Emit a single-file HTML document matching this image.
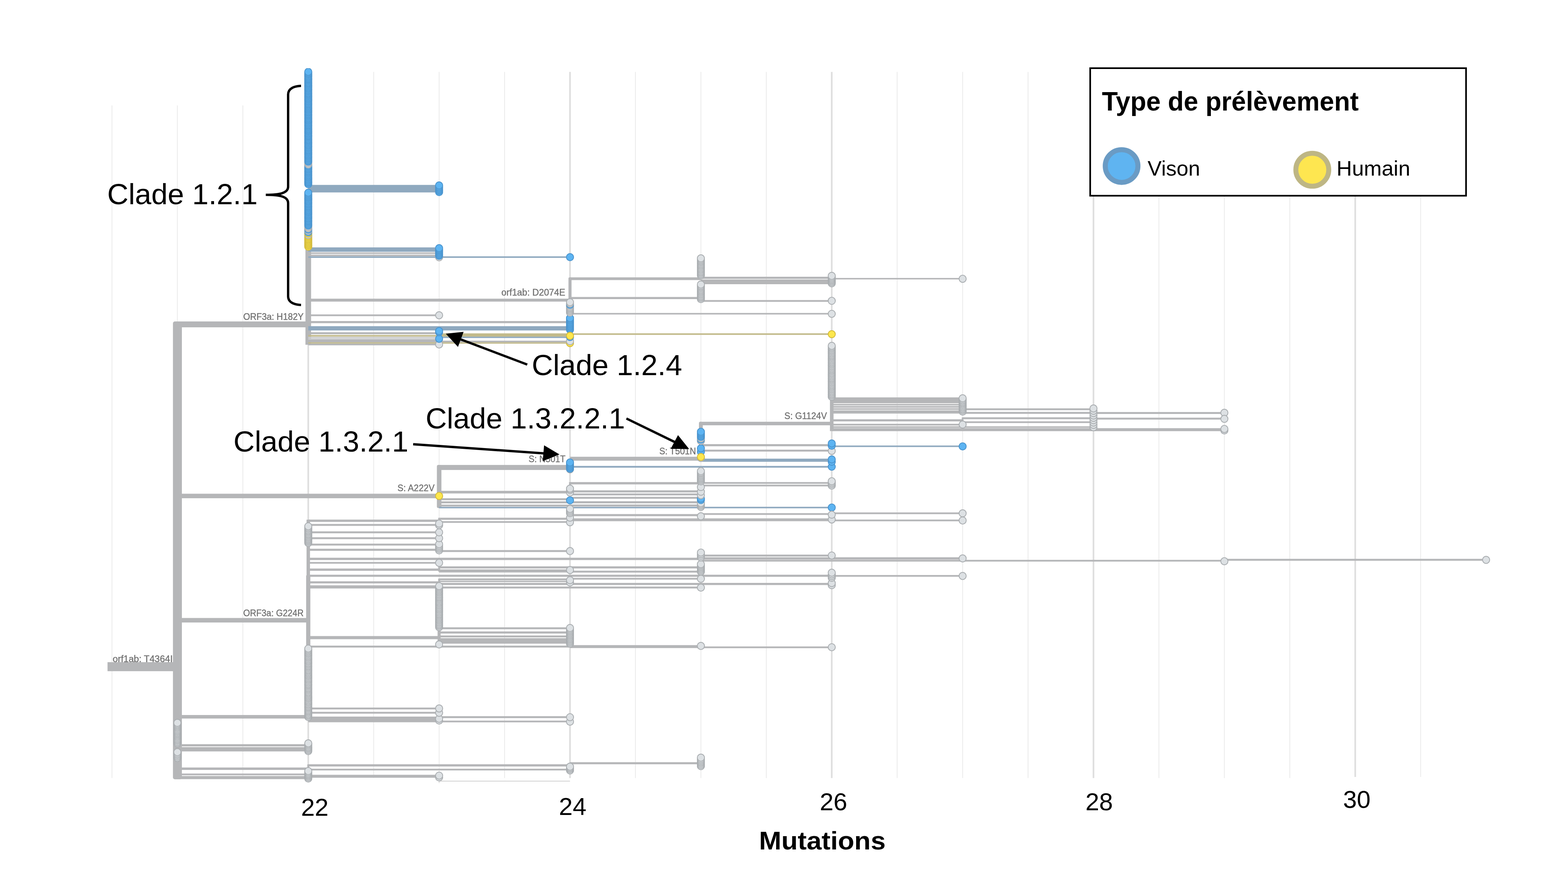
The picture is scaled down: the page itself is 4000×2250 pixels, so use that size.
<!DOCTYPE html>
<html lang="fr">
<head>
<meta charset="utf-8">
<title>Mutations - Type de prélèvement</title>
<style>
html,body{margin:0;padding:0;background:#fff;}
body{width:4000px;height:2250px;font-family:"Liberation Sans",sans-serif;}
svg{display:block;}
text{font-family:"Liberation Sans",sans-serif;}
.lb{font-size:23.5px;fill:#707070;stroke:#707070;stroke-width:0.45px;}
.cl{font-size:75px;fill:#000;}
.ax{font-size:63px;fill:#000;}
.bd{font-weight:bold;fill:#000;}
</style>
</head>
<body>
<svg width="4000" height="2250" viewBox="0 0 4000 2250">
<rect width="4000" height="2250" fill="#fff"/>
<g id="grid">
<rect x="284.5" y="269" width="2.2" height="1715.8" fill="#ececec"/>
<rect x="451.4" y="269" width="2.2" height="1715.8" fill="#ececec"/>
<rect x="618.4" y="269" width="2.2" height="1715.8" fill="#ececec"/>
<rect x="784.3" y="183.5" width="4.2" height="1801.3" fill="#dedede"/>
<rect x="952.2" y="183.5" width="2.2" height="1801.3" fill="#ececec"/>
<rect x="1119.2" y="183.5" width="2.2" height="1801.3" fill="#ececec"/>
<rect x="1286.1" y="183.5" width="2.2" height="1801.3" fill="#ececec"/>
<rect x="1452" y="183.5" width="4.2" height="1801.3" fill="#dedede"/>
<rect x="1619.9" y="183.5" width="2.2" height="1801.3" fill="#ececec"/>
<rect x="1786.9" y="183.5" width="2.2" height="1801.3" fill="#ececec"/>
<rect x="1953.8" y="183.5" width="2.2" height="1801.3" fill="#ececec"/>
<rect x="2119.7" y="183.5" width="4.2" height="1801.3" fill="#dedede"/>
<rect x="2287.6" y="183.5" width="2.2" height="1801.3" fill="#ececec"/>
<rect x="2454.6" y="183.5" width="2.2" height="1801.3" fill="#ececec"/>
<rect x="2621.5" y="183.5" width="2.2" height="1801.3" fill="#ececec"/>
<rect x="2787.4" y="183.5" width="4.2" height="1801.3" fill="#dedede"/>
<rect x="2955.3" y="183.5" width="2.2" height="1801.3" fill="#ececec"/>
<rect x="3122.3" y="183.5" width="2.2" height="1801.3" fill="#ececec"/>
<rect x="3289.2" y="183.5" width="2.2" height="1801.3" fill="#ececec"/>
<rect x="3455.1" y="183.5" width="4.2" height="1798.5" fill="#dedede"/>
<rect x="3623" y="183.5" width="2.2" height="1798.5" fill="#ececec"/>
<path d="M1120.2 1988.5V1997.5M1120.2 1992.6H1454.1" stroke="#c9c9c9" stroke-width="1.6" fill="none"/>
</g>
<g id="branches">
<rect x="274.3" y="1689.2" width="178.2" height="23" fill="#b5b6b8"/>
<rect x="441.2" y="820" width="22.8" height="1168" rx="5" fill="#b5b6b8"/>
<rect x="452.5" y="820" width="333.9" height="15" fill="#b5b6b8"/>
<rect x="452.5" y="1259.5" width="667.7" height="11.5" fill="#b5b6b8"/>
<rect x="452.5" y="1576.5" width="333.9" height="11.5" fill="#b5b6b8"/>
<rect x="452.5" y="1824" width="333.9" height="9" fill="#b5b6b8"/>
<rect x="452.5" y="1898.4" width="333.9" height="5.6" fill="#b5b6b8"/>
<rect x="452.5" y="1905.9" width="333.9" height="11" fill="#b5b6b8"/>
<rect x="452.5" y="1957.9" width="333.9" height="6.2" fill="#b5b6b8"/>
<rect x="452.5" y="1973.3" width="333.9" height="4.4" fill="#b5b6b8"/>
<rect x="452.5" y="1979.6" width="333.9" height="8" fill="#b5b6b8"/>
<rect x="779.2" y="637" width="14.4" height="242.5" fill="#b5b6b8"/>
<rect x="786.4" y="471.7" width="333.9" height="19.2" fill="#8fa9bf"/>
<rect x="786.4" y="631.1" width="333.9" height="11.3" fill="#8fa9bf"/>
<rect x="786.4" y="644" width="333.9" height="3.6" fill="#b5b6b8"/>
<rect x="786.4" y="649.6" width="333.9" height="3.9" fill="#b5b6b8"/>
<rect x="786.4" y="653.9" width="667.7" height="3.9" fill="#8fa9bf"/>
<rect x="786.4" y="761.9" width="667.7" height="7.5" fill="#b5b6b8"/>
<rect x="786.4" y="802.1" width="333.9" height="4.4" fill="#b5b6b8"/>
<rect x="786.4" y="819" width="667.7" height="5.4" fill="#b5b6b8"/>
<rect x="786.4" y="832.1" width="667.7" height="10.9" fill="#8fa9bf"/>
<rect x="786.4" y="847.5" width="333.9" height="5.1" fill="#b5b6b8"/>
<rect x="786.4" y="854.6" width="333.9" height="4" fill="#c2ba8a"/>
<rect x="1120.2" y="850.4" width="333.8" height="8.4" fill="#c2ba8a"/>
<rect x="786.4" y="859.3" width="333.9" height="3.4" fill="#cbccce"/>
<rect x="1120.2" y="858.8" width="333.8" height="3.5" fill="#8fa9bf"/>
<rect x="786.4" y="863.3" width="333.9" height="4.4" fill="#cbccce"/>
<rect x="786.4" y="866.5" width="333.9" height="7" fill="#b5b6b8"/>
<rect x="1120.2" y="869.1" width="333.8" height="4.4" fill="#b5b6b8"/>
<rect x="786.4" y="873.3" width="667.7" height="3.4" fill="#c2ba8a"/>
<rect x="786.4" y="876.6" width="333.9" height="4.3" fill="#b5b6b8"/>
<rect x="1450.2" y="707.5" width="7.8" height="58.1" rx="3" fill="#b5b6b8"/>
<rect x="1454.1" y="707.5" width="333.9" height="7" fill="#b5b6b8"/>
<rect x="1788" y="706" width="333.9" height="5.4" fill="#b5b6b8"/>
<rect x="1788" y="713" width="333.9" height="12" fill="#b5b6b8"/>
<rect x="2121.8" y="709.1" width="333.8" height="3.7" fill="#b5b6b8"/>
<rect x="1454.1" y="757.6" width="333.9" height="5.4" fill="#b5b6b8"/>
<rect x="1788" y="765.5" width="333.9" height="4.4" fill="#b5b6b8"/>
<rect x="1454.1" y="798.4" width="667.7" height="3.9" fill="#b5b6b8"/>
<rect x="1454.1" y="850.3" width="667.7" height="4" fill="#c2ba8a"/>
<rect x="2117.2" y="1013.5" width="9.2" height="86.2" fill="#b5b6b8"/>
<rect x="2121.8" y="1013.7" width="333.8" height="15" fill="#b5b6b8"/>
<rect x="2121.8" y="1030.5" width="333.8" height="3.9" fill="#b5b6b8"/>
<rect x="2121.8" y="1036" width="333.8" height="3.9" fill="#b5b6b8"/>
<rect x="2121.8" y="1041.5" width="333.8" height="3.9" fill="#b5b6b8"/>
<rect x="2121.8" y="1047" width="333.8" height="8" fill="#b5b6b8"/>
<rect x="2455.7" y="1041.7" width="333.8" height="4.7" fill="#b5b6b8"/>
<rect x="2455.7" y="1050.8" width="333.8" height="4.9" fill="#b5b6b8"/>
<rect x="2453.4" y="1065" width="4.5" height="9.5" fill="#b5b6b8"/>
<rect x="2455.7" y="1064.5" width="333.8" height="4.9" fill="#b5b6b8"/>
<rect x="2455.7" y="1074.8" width="333.8" height="4.4" fill="#b5b6b8"/>
<rect x="2121.8" y="1069.6" width="333.8" height="5.4" fill="#b5b6b8"/>
<rect x="2121.8" y="1081.1" width="333.8" height="4.4" fill="#b5b6b8"/>
<rect x="2121.8" y="1087.5" width="667.7" height="3.9" fill="#b5b6b8"/>
<rect x="2121.8" y="1092.3" width="1001.6" height="7.6" fill="#b5b6b8"/>
<rect x="2789.5" y="1051.1" width="333.9" height="4.9" fill="#b5b6b8"/>
<rect x="2789.5" y="1065.5" width="333.9" height="4.9" fill="#b5b6b8"/>
<rect x="1788" y="1075.9" width="333.9" height="9" fill="#b5b6b8"/>
<rect x="1783" y="1075.8" width="9.8" height="95" rx="4" fill="#b5b6b8"/>
<rect x="1454.1" y="1165.2" width="333.9" height="10" fill="#b5b6b8"/>
<rect x="1788" y="1133" width="333.9" height="5.4" fill="#b5b6b8"/>
<rect x="1788" y="1147.1" width="333.9" height="4.9" fill="#b5b6b8"/>
<rect x="1788" y="1170" width="333.9" height="8" fill="#8fa9bf"/>
<rect x="1454.1" y="1188.6" width="667.7" height="4.4" fill="#8fa9bf"/>
<rect x="2121.8" y="1136.5" width="333.8" height="3.9" fill="#8fa9bf"/>
<rect x="1120.2" y="1186.1" width="333.8" height="12.8" fill="#b5b6b8"/>
<rect x="1114.5" y="1186.1" width="11.6" height="110" rx="4" fill="#b5b6b8"/>
<rect x="1120.2" y="1252.1" width="333.8" height="6.7" fill="#b5b6b8"/>
<rect x="1120.2" y="1271" width="333.8" height="5.1" fill="#b5b6b8"/>
<rect x="1120.2" y="1278.9" width="333.8" height="5.1" fill="#b5b6b8"/>
<rect x="1120.2" y="1287.3" width="333.8" height="4.6" fill="#b5b6b8"/>
<rect x="1120.2" y="1292.8" width="1001.6" height="3.9" fill="#8fa9bf"/>
<rect x="1451.6" y="1230" width="5" height="26" fill="#b5b6b8"/>
<rect x="1454.1" y="1229.8" width="333.9" height="5.9" fill="#b5b6b8"/>
<rect x="1454.1" y="1250.8" width="333.9" height="5.4" fill="#b5b6b8"/>
<rect x="1454.1" y="1258.8" width="333.9" height="4.9" fill="#b5b6b8"/>
<rect x="1454.1" y="1267.5" width="333.9" height="4.9" fill="#b5b6b8"/>
<rect x="1454.1" y="1278.6" width="333.9" height="5.4" fill="#b5b6b8"/>
<rect x="1454.1" y="1287" width="333.9" height="4.9" fill="#b5b6b8"/>
<rect x="1454.1" y="1311.4" width="333.9" height="5.4" fill="#b5b6b8"/>
<rect x="1454.1" y="1322.4" width="667.7" height="7.2" fill="#b5b6b8"/>
<rect x="1117.8" y="1321" width="5" height="10" fill="#b5b6b8"/>
<rect x="1120.2" y="1320.7" width="333.8" height="5.4" fill="#b5b6b8"/>
<rect x="1120.2" y="1329.4" width="333.8" height="4.4" fill="#b5b6b8"/>
<rect x="1788" y="1229.8" width="333.9" height="4.4" fill="#b5b6b8"/>
<rect x="1788" y="1236.4" width="333.9" height="4.4" fill="#b5b6b8"/>
<rect x="1788" y="1309.1" width="333.9" height="4.4" fill="#b5b6b8"/>
<rect x="2121.8" y="1307.2" width="333.8" height="4.4" fill="#b5b6b8"/>
<rect x="2121.8" y="1325.4" width="333.8" height="4.4" fill="#b5b6b8"/>
<rect x="782" y="1325.7" width="8.8" height="146.3" fill="#b5b6b8"/>
<rect x="781" y="1468" width="10.7" height="184" fill="#b5b6b8"/>
<rect x="786.4" y="1325.5" width="333.9" height="5.9" fill="#b5b6b8"/>
<rect x="786.4" y="1336.6" width="333.9" height="4.9" fill="#b5b6b8"/>
<rect x="786.4" y="1355.5" width="333.9" height="4.9" fill="#b5b6b8"/>
<rect x="786.4" y="1370.5" width="333.9" height="4.9" fill="#b5b6b8"/>
<rect x="786.4" y="1386.8" width="333.9" height="4.9" fill="#b5b6b8"/>
<rect x="786.4" y="1399.8" width="333.9" height="5.4" fill="#b5b6b8"/>
<rect x="786.4" y="1422.8" width="1001.6" height="5.9" fill="#b5b6b8"/>
<rect x="786.4" y="1433.6" width="333.9" height="4.4" fill="#b5b6b8"/>
<rect x="786.4" y="1450.3" width="333.9" height="5.9" fill="#b5b6b8"/>
<rect x="786.4" y="1466.1" width="1335.4" height="5.4" fill="#b5b6b8"/>
<rect x="786.4" y="1482.9" width="333.9" height="5.4" fill="#b5b6b8"/>
<rect x="786.4" y="1493.2" width="333.9" height="8" fill="#b5b6b8"/>
<rect x="786.4" y="1622.6" width="333.9" height="8" fill="#b5b6b8"/>
<rect x="786.4" y="1647" width="667.7" height="4.9" fill="#b5b6b8"/>
<rect x="1116.3" y="1600" width="7.8" height="41" fill="#b5b6b8"/>
<rect x="1120.2" y="1403.3" width="333.8" height="4.9" fill="#b5b6b8"/>
<rect x="1120.2" y="1444.7" width="667.7" height="5.4" fill="#b5b6b8"/>
<rect x="1120.2" y="1452.6" width="333.8" height="7.8" fill="#b5b6b8"/>
<rect x="1120.2" y="1475.5" width="333.8" height="4.9" fill="#b5b6b8"/>
<rect x="1120.2" y="1481.6" width="333.8" height="3.4" fill="#b5b6b8"/>
<rect x="1120.2" y="1487" width="1001.6" height="5.4" fill="#b5b6b8"/>
<rect x="1120.2" y="1496.3" width="667.7" height="4.9" fill="#b5b6b8"/>
<rect x="1120.2" y="1600.3" width="333.8" height="4.9" fill="#b5b6b8"/>
<rect x="1120.2" y="1610.8" width="333.8" height="5.4" fill="#b5b6b8"/>
<rect x="1120.2" y="1621.1" width="333.8" height="4.9" fill="#b5b6b8"/>
<rect x="1120.2" y="1628" width="333.8" height="14" fill="#b5b6b8"/>
<rect x="1117.8" y="1445" width="5" height="13" fill="#b5b6b8"/>
<rect x="1117.8" y="1476" width="5" height="12" fill="#b5b6b8"/>
<rect x="1454.1" y="1455.8" width="333.9" height="4.9" fill="#b5b6b8"/>
<rect x="1454.1" y="1474.2" width="333.9" height="4.4" fill="#b5b6b8"/>
<rect x="1454.1" y="1645.7" width="333.9" height="7.5" fill="#b5b6b8"/>
<rect x="1788" y="1414.8" width="333.9" height="4.9" fill="#b5b6b8"/>
<rect x="1788" y="1421.6" width="667.7" height="5.9" fill="#b5b6b8"/>
<rect x="1788" y="1428.2" width="1335.4" height="4.4" fill="#b5b6b8"/>
<rect x="3123.4" y="1425.6" width="667.7" height="4.9" fill="#b5b6b8"/>
<rect x="2121.8" y="1466.9" width="333.8" height="4.4" fill="#b5b6b8"/>
<rect x="1788" y="1649.1" width="333.9" height="4.4" fill="#b5b6b8"/>
<rect x="786.4" y="1805" width="333.9" height="4.7" fill="#b5b6b8"/>
<rect x="786.4" y="1815.9" width="333.9" height="4.7" fill="#b5b6b8"/>
<rect x="786.4" y="1828" width="333.9" height="14.5" fill="#b5b6b8"/>
<rect x="1120.2" y="1827" width="333.8" height="4.9" fill="#b5b6b8"/>
<rect x="1120.2" y="1838.3" width="333.8" height="4.4" fill="#b5b6b8"/>
<rect x="783.9" y="1950" width="5" height="12" fill="#b5b6b8"/>
<rect x="786.4" y="1949.6" width="667.7" height="5.7" fill="#b5b6b8"/>
<rect x="786.4" y="1961" width="667.7" height="4.4" fill="#b5b6b8"/>
<rect x="786.4" y="1976.5" width="333.9" height="7.5" fill="#b5b6b8"/>
<rect x="1454.1" y="1944.4" width="333.9" height="5.2" fill="#b5b6b8"/>
</g>
<g id="tips" stroke-width="2.1">
<clipPath id="cl"><rect x="0" y="174" width="4000" height="2076"/></clipPath>
<g clip-path="url(#cl)">
<circle cx="452.5" cy="1896.5" r="9.15" fill="#dde1e4" stroke="#a9adb0"/>
<circle cx="452.5" cy="1893.2" r="9.15" fill="#dde1e4" stroke="#a9adb0"/>
<circle cx="452.5" cy="1889.9" r="9.15" fill="#dde1e4" stroke="#a9adb0"/>
<circle cx="452.5" cy="1886.7" r="9.15" fill="#dde1e4" stroke="#a9adb0"/>
<circle cx="452.5" cy="1883.4" r="9.15" fill="#dde1e4" stroke="#a9adb0"/>
<circle cx="452.5" cy="1880.1" r="9.15" fill="#dde1e4" stroke="#a9adb0"/>
<circle cx="452.5" cy="1876.8" r="9.15" fill="#dde1e4" stroke="#a9adb0"/>
<circle cx="452.5" cy="1873.5" r="9.15" fill="#dde1e4" stroke="#a9adb0"/>
<circle cx="452.5" cy="1870.2" r="9.15" fill="#dde1e4" stroke="#a9adb0"/>
<circle cx="452.5" cy="1867" r="9.15" fill="#dde1e4" stroke="#a9adb0"/>
<circle cx="452.5" cy="1863.7" r="9.15" fill="#dde1e4" stroke="#a9adb0"/>
<circle cx="452.5" cy="1860.4" r="9.15" fill="#dde1e4" stroke="#a9adb0"/>
<circle cx="452.5" cy="1857.1" r="9.15" fill="#dde1e4" stroke="#a9adb0"/>
<circle cx="452.5" cy="1853.8" r="9.15" fill="#dde1e4" stroke="#a9adb0"/>
<circle cx="452.5" cy="1850.6" r="9.15" fill="#dde1e4" stroke="#a9adb0"/>
<circle cx="452.5" cy="1847.3" r="9.15" fill="#dde1e4" stroke="#a9adb0"/>
<circle cx="452.5" cy="1844" r="9.15" fill="#dde1e4" stroke="#a9adb0"/>
<circle cx="452.5" cy="1933.3" r="9.15" fill="#dde1e4" stroke="#a9adb0"/>
<circle cx="452.5" cy="1929.7" r="9.15" fill="#dde1e4" stroke="#a9adb0"/>
<circle cx="452.5" cy="1926" r="9.15" fill="#dde1e4" stroke="#a9adb0"/>
<circle cx="452.5" cy="1922.4" r="9.15" fill="#dde1e4" stroke="#a9adb0"/>
<circle cx="452.5" cy="1918.8" r="9.15" fill="#dde1e4" stroke="#a9adb0"/>
<circle cx="786.4" cy="469.9" r="9.15" fill="#5db4f2" stroke="#4a94ce"/>
<circle cx="786.4" cy="466.5" r="9.15" fill="#5db4f2" stroke="#4a94ce"/>
<circle cx="786.4" cy="463.2" r="9.15" fill="#5db4f2" stroke="#4a94ce"/>
<circle cx="786.4" cy="459.8" r="9.15" fill="#5db4f2" stroke="#4a94ce"/>
<circle cx="786.4" cy="456.4" r="9.15" fill="#5db4f2" stroke="#4a94ce"/>
<circle cx="786.4" cy="453.1" r="9.15" fill="#5db4f2" stroke="#4a94ce"/>
<circle cx="786.4" cy="449.7" r="9.15" fill="#5db4f2" stroke="#4a94ce"/>
<circle cx="786.4" cy="446.3" r="9.15" fill="#5db4f2" stroke="#4a94ce"/>
<circle cx="786.4" cy="442.9" r="9.15" fill="#5db4f2" stroke="#4a94ce"/>
<circle cx="786.4" cy="439.6" r="9.15" fill="#5db4f2" stroke="#4a94ce"/>
<circle cx="786.4" cy="436.2" r="9.15" fill="#5db4f2" stroke="#4a94ce"/>
<circle cx="786.4" cy="432.8" r="9.15" fill="#5db4f2" stroke="#4a94ce"/>
<circle cx="786.4" cy="429.5" r="9.15" fill="#5db4f2" stroke="#4a94ce"/>
<circle cx="786.4" cy="426.1" r="9.15" fill="#5db4f2" stroke="#4a94ce"/>
<circle cx="786.4" cy="422.7" r="9.15" fill="#5db4f2" stroke="#4a94ce"/>
<circle cx="786.4" cy="419.3" r="9.15" fill="#dde1e4" stroke="#a9adb0"/>
<circle cx="786.4" cy="416" r="9.15" fill="#dde1e4" stroke="#a9adb0"/>
<circle cx="786.4" cy="412.6" r="9.15" fill="#5db4f2" stroke="#4a94ce"/>
<circle cx="786.4" cy="409.2" r="9.15" fill="#5db4f2" stroke="#4a94ce"/>
<circle cx="786.4" cy="405.9" r="9.15" fill="#5db4f2" stroke="#4a94ce"/>
<circle cx="786.4" cy="402.5" r="9.15" fill="#5db4f2" stroke="#4a94ce"/>
<circle cx="786.4" cy="399.1" r="9.15" fill="#5db4f2" stroke="#4a94ce"/>
<circle cx="786.4" cy="395.7" r="9.15" fill="#5db4f2" stroke="#4a94ce"/>
<circle cx="786.4" cy="392.4" r="9.15" fill="#5db4f2" stroke="#4a94ce"/>
<circle cx="786.4" cy="389" r="9.15" fill="#5db4f2" stroke="#4a94ce"/>
<circle cx="786.4" cy="385.6" r="9.15" fill="#5db4f2" stroke="#4a94ce"/>
<circle cx="786.4" cy="382.2" r="9.15" fill="#5db4f2" stroke="#4a94ce"/>
<circle cx="786.4" cy="378.9" r="9.15" fill="#5db4f2" stroke="#4a94ce"/>
<circle cx="786.4" cy="375.5" r="9.15" fill="#5db4f2" stroke="#4a94ce"/>
<circle cx="786.4" cy="372.1" r="9.15" fill="#5db4f2" stroke="#4a94ce"/>
<circle cx="786.4" cy="368.8" r="9.15" fill="#5db4f2" stroke="#4a94ce"/>
<circle cx="786.4" cy="365.4" r="9.15" fill="#5db4f2" stroke="#4a94ce"/>
<circle cx="786.4" cy="362" r="9.15" fill="#5db4f2" stroke="#4a94ce"/>
<circle cx="786.4" cy="358.6" r="9.15" fill="#5db4f2" stroke="#4a94ce"/>
<circle cx="786.4" cy="355.3" r="9.15" fill="#5db4f2" stroke="#4a94ce"/>
<circle cx="786.4" cy="351.9" r="9.15" fill="#5db4f2" stroke="#4a94ce"/>
<circle cx="786.4" cy="348.5" r="9.15" fill="#5db4f2" stroke="#4a94ce"/>
<circle cx="786.4" cy="345.2" r="9.15" fill="#5db4f2" stroke="#4a94ce"/>
<circle cx="786.4" cy="341.8" r="9.15" fill="#5db4f2" stroke="#4a94ce"/>
<circle cx="786.4" cy="338.4" r="9.15" fill="#5db4f2" stroke="#4a94ce"/>
<circle cx="786.4" cy="335" r="9.15" fill="#5db4f2" stroke="#4a94ce"/>
<circle cx="786.4" cy="331.7" r="9.15" fill="#5db4f2" stroke="#4a94ce"/>
<circle cx="786.4" cy="328.3" r="9.15" fill="#5db4f2" stroke="#4a94ce"/>
<circle cx="786.4" cy="324.9" r="9.15" fill="#5db4f2" stroke="#4a94ce"/>
<circle cx="786.4" cy="321.6" r="9.15" fill="#5db4f2" stroke="#4a94ce"/>
<circle cx="786.4" cy="318.2" r="9.15" fill="#5db4f2" stroke="#4a94ce"/>
<circle cx="786.4" cy="314.8" r="9.15" fill="#5db4f2" stroke="#4a94ce"/>
<circle cx="786.4" cy="311.4" r="9.15" fill="#5db4f2" stroke="#4a94ce"/>
<circle cx="786.4" cy="308.1" r="9.15" fill="#5db4f2" stroke="#4a94ce"/>
<circle cx="786.4" cy="304.7" r="9.15" fill="#5db4f2" stroke="#4a94ce"/>
<circle cx="786.4" cy="301.3" r="9.15" fill="#5db4f2" stroke="#4a94ce"/>
<circle cx="786.4" cy="297.9" r="9.15" fill="#5db4f2" stroke="#4a94ce"/>
<circle cx="786.4" cy="294.6" r="9.15" fill="#5db4f2" stroke="#4a94ce"/>
<circle cx="786.4" cy="291.2" r="9.15" fill="#5db4f2" stroke="#4a94ce"/>
<circle cx="786.4" cy="287.8" r="9.15" fill="#5db4f2" stroke="#4a94ce"/>
<circle cx="786.4" cy="284.5" r="9.15" fill="#5db4f2" stroke="#4a94ce"/>
<circle cx="786.4" cy="281.1" r="9.15" fill="#5db4f2" stroke="#4a94ce"/>
<circle cx="786.4" cy="277.7" r="9.15" fill="#5db4f2" stroke="#4a94ce"/>
<circle cx="786.4" cy="274.3" r="9.15" fill="#5db4f2" stroke="#4a94ce"/>
<circle cx="786.4" cy="271" r="9.15" fill="#5db4f2" stroke="#4a94ce"/>
<circle cx="786.4" cy="267.6" r="9.15" fill="#5db4f2" stroke="#4a94ce"/>
<circle cx="786.4" cy="264.2" r="9.15" fill="#5db4f2" stroke="#4a94ce"/>
<circle cx="786.4" cy="260.9" r="9.15" fill="#5db4f2" stroke="#4a94ce"/>
<circle cx="786.4" cy="257.5" r="9.15" fill="#5db4f2" stroke="#4a94ce"/>
<circle cx="786.4" cy="254.1" r="9.15" fill="#5db4f2" stroke="#4a94ce"/>
<circle cx="786.4" cy="250.7" r="9.15" fill="#5db4f2" stroke="#4a94ce"/>
<circle cx="786.4" cy="247.4" r="9.15" fill="#5db4f2" stroke="#4a94ce"/>
<circle cx="786.4" cy="244" r="9.15" fill="#5db4f2" stroke="#4a94ce"/>
<circle cx="786.4" cy="240.6" r="9.15" fill="#5db4f2" stroke="#4a94ce"/>
<circle cx="786.4" cy="237.3" r="9.15" fill="#5db4f2" stroke="#4a94ce"/>
<circle cx="786.4" cy="233.9" r="9.15" fill="#5db4f2" stroke="#4a94ce"/>
<circle cx="786.4" cy="230.5" r="9.15" fill="#5db4f2" stroke="#4a94ce"/>
<circle cx="786.4" cy="227.1" r="9.15" fill="#5db4f2" stroke="#4a94ce"/>
<circle cx="786.4" cy="223.8" r="9.15" fill="#5db4f2" stroke="#4a94ce"/>
<circle cx="786.4" cy="220.4" r="9.15" fill="#5db4f2" stroke="#4a94ce"/>
<circle cx="786.4" cy="217" r="9.15" fill="#5db4f2" stroke="#4a94ce"/>
<circle cx="786.4" cy="213.6" r="9.15" fill="#5db4f2" stroke="#4a94ce"/>
<circle cx="786.4" cy="210.3" r="9.15" fill="#5db4f2" stroke="#4a94ce"/>
<circle cx="786.4" cy="206.9" r="9.15" fill="#5db4f2" stroke="#4a94ce"/>
<circle cx="786.4" cy="203.5" r="9.15" fill="#5db4f2" stroke="#4a94ce"/>
<circle cx="786.4" cy="200.2" r="9.15" fill="#5db4f2" stroke="#4a94ce"/>
<circle cx="786.4" cy="196.8" r="9.15" fill="#5db4f2" stroke="#4a94ce"/>
<circle cx="786.4" cy="193.4" r="9.15" fill="#5db4f2" stroke="#4a94ce"/>
<circle cx="786.4" cy="190" r="9.15" fill="#5db4f2" stroke="#4a94ce"/>
<circle cx="786.4" cy="186.7" r="9.15" fill="#5db4f2" stroke="#4a94ce"/>
<circle cx="786.4" cy="183.3" r="9.15" fill="#5db4f2" stroke="#4a94ce"/>
<circle cx="786.4" cy="629.4" r="9.15" fill="#fde74d" stroke="#d4bb3c"/>
<circle cx="786.4" cy="626" r="9.15" fill="#fde74d" stroke="#d4bb3c"/>
<circle cx="786.4" cy="622.7" r="9.15" fill="#fde74d" stroke="#d4bb3c"/>
<circle cx="786.4" cy="619.3" r="9.15" fill="#fde74d" stroke="#d4bb3c"/>
<circle cx="786.4" cy="616" r="9.15" fill="#fde74d" stroke="#d4bb3c"/>
<circle cx="786.4" cy="612.6" r="9.15" fill="#fde74d" stroke="#d4bb3c"/>
<circle cx="786.4" cy="609.2" r="9.15" fill="#fde74d" stroke="#d4bb3c"/>
<circle cx="786.4" cy="605.9" r="9.15" fill="#fde74d" stroke="#d4bb3c"/>
<circle cx="786.4" cy="602.5" r="9.15" fill="#fde74d" stroke="#d4bb3c"/>
<circle cx="786.4" cy="599.2" r="9.15" fill="#dde1e4" stroke="#a9adb0"/>
<circle cx="786.4" cy="595.8" r="9.15" fill="#fde74d" stroke="#d4bb3c"/>
<circle cx="786.4" cy="592.4" r="9.15" fill="#5db4f2" stroke="#4a94ce"/>
<circle cx="786.4" cy="589.1" r="9.15" fill="#dde1e4" stroke="#a9adb0"/>
<circle cx="786.4" cy="585.7" r="9.15" fill="#5db4f2" stroke="#4a94ce"/>
<circle cx="786.4" cy="582.3" r="9.15" fill="#dde1e4" stroke="#a9adb0"/>
<circle cx="786.4" cy="579" r="9.15" fill="#dde1e4" stroke="#a9adb0"/>
<circle cx="786.4" cy="575.6" r="9.15" fill="#5db4f2" stroke="#4a94ce"/>
<circle cx="786.4" cy="572.3" r="9.15" fill="#5db4f2" stroke="#4a94ce"/>
<circle cx="786.4" cy="568.9" r="9.15" fill="#5db4f2" stroke="#4a94ce"/>
<circle cx="786.4" cy="565.5" r="9.15" fill="#5db4f2" stroke="#4a94ce"/>
<circle cx="786.4" cy="562.2" r="9.15" fill="#5db4f2" stroke="#4a94ce"/>
<circle cx="786.4" cy="558.8" r="9.15" fill="#5db4f2" stroke="#4a94ce"/>
<circle cx="786.4" cy="555.5" r="9.15" fill="#5db4f2" stroke="#4a94ce"/>
<circle cx="786.4" cy="552.1" r="9.15" fill="#5db4f2" stroke="#4a94ce"/>
<circle cx="786.4" cy="548.7" r="9.15" fill="#5db4f2" stroke="#4a94ce"/>
<circle cx="786.4" cy="545.4" r="9.15" fill="#5db4f2" stroke="#4a94ce"/>
<circle cx="786.4" cy="542" r="9.15" fill="#5db4f2" stroke="#4a94ce"/>
<circle cx="786.4" cy="538.7" r="9.15" fill="#5db4f2" stroke="#4a94ce"/>
<circle cx="786.4" cy="535.3" r="9.15" fill="#5db4f2" stroke="#4a94ce"/>
<circle cx="786.4" cy="531.9" r="9.15" fill="#5db4f2" stroke="#4a94ce"/>
<circle cx="786.4" cy="528.6" r="9.15" fill="#5db4f2" stroke="#4a94ce"/>
<circle cx="786.4" cy="525.2" r="9.15" fill="#5db4f2" stroke="#4a94ce"/>
<circle cx="786.4" cy="521.8" r="9.15" fill="#5db4f2" stroke="#4a94ce"/>
<circle cx="786.4" cy="518.5" r="9.15" fill="#5db4f2" stroke="#4a94ce"/>
<circle cx="786.4" cy="515.1" r="9.15" fill="#5db4f2" stroke="#4a94ce"/>
<circle cx="786.4" cy="511.8" r="9.15" fill="#5db4f2" stroke="#4a94ce"/>
<circle cx="786.4" cy="508.4" r="9.15" fill="#5db4f2" stroke="#4a94ce"/>
<circle cx="786.4" cy="505" r="9.15" fill="#5db4f2" stroke="#4a94ce"/>
<circle cx="786.4" cy="501.7" r="9.15" fill="#5db4f2" stroke="#4a94ce"/>
<circle cx="786.4" cy="498.3" r="9.15" fill="#5db4f2" stroke="#4a94ce"/>
<circle cx="786.4" cy="495" r="9.15" fill="#5db4f2" stroke="#4a94ce"/>
<circle cx="786.4" cy="491.6" r="9.15" fill="#5db4f2" stroke="#4a94ce"/>
<circle cx="1120.2" cy="490" r="9.15" fill="#5db4f2" stroke="#4a94ce"/>
<circle cx="1120.2" cy="486.6" r="9.15" fill="#5db4f2" stroke="#4a94ce"/>
<circle cx="1120.2" cy="483.2" r="9.15" fill="#5db4f2" stroke="#4a94ce"/>
<circle cx="1120.2" cy="479.8" r="9.15" fill="#5db4f2" stroke="#4a94ce"/>
<circle cx="1120.2" cy="476.4" r="9.15" fill="#5db4f2" stroke="#4a94ce"/>
<circle cx="1120.2" cy="473" r="9.15" fill="#5db4f2" stroke="#4a94ce"/>
<circle cx="1120.2" cy="656.3" r="9.15" fill="#dde1e4" stroke="#a9adb0"/>
<circle cx="1120.2" cy="652.5" r="9.15" fill="#5db4f2" stroke="#4a94ce"/>
<circle cx="1120.2" cy="649.2" r="9.15" fill="#5db4f2" stroke="#4a94ce"/>
<circle cx="1120.2" cy="646" r="9.15" fill="#5db4f2" stroke="#4a94ce"/>
<circle cx="1120.2" cy="642.8" r="9.15" fill="#5db4f2" stroke="#4a94ce"/>
<circle cx="1120.2" cy="639.5" r="9.15" fill="#5db4f2" stroke="#4a94ce"/>
<circle cx="1120.2" cy="636.2" r="9.15" fill="#5db4f2" stroke="#4a94ce"/>
<circle cx="1120.2" cy="633" r="9.15" fill="#5db4f2" stroke="#4a94ce"/>
<circle cx="1454.1" cy="656" r="9.15" fill="#5db4f2" stroke="#4a94ce"/>
<circle cx="1120.2" cy="804.3" r="9.15" fill="#dde1e4" stroke="#a9adb0"/>
<circle cx="1120.2" cy="878.7" r="9.15" fill="#dde1e4" stroke="#a9adb0"/>
<circle cx="1120.2" cy="864.3" r="9.15" fill="#5db4f2" stroke="#4a94ce"/>
<circle cx="1120.2" cy="847.5" r="9.15" fill="#5db4f2" stroke="#4a94ce"/>
<circle cx="1120.2" cy="844.5" r="9.15" fill="#5db4f2" stroke="#4a94ce"/>
<circle cx="2455.7" cy="711.2" r="9.15" fill="#dde1e4" stroke="#a9adb0"/>
<circle cx="1788" cy="702.5" r="9.15" fill="#dde1e4" stroke="#a9adb0"/>
<circle cx="1788" cy="699.2" r="9.15" fill="#dde1e4" stroke="#a9adb0"/>
<circle cx="1788" cy="695.8" r="9.15" fill="#dde1e4" stroke="#a9adb0"/>
<circle cx="1788" cy="692.5" r="9.15" fill="#dde1e4" stroke="#a9adb0"/>
<circle cx="1788" cy="689.1" r="9.15" fill="#dde1e4" stroke="#a9adb0"/>
<circle cx="1788" cy="685.8" r="9.15" fill="#dde1e4" stroke="#a9adb0"/>
<circle cx="1788" cy="682.4" r="9.15" fill="#dde1e4" stroke="#a9adb0"/>
<circle cx="1788" cy="679.1" r="9.15" fill="#dde1e4" stroke="#a9adb0"/>
<circle cx="1788" cy="675.7" r="9.15" fill="#dde1e4" stroke="#a9adb0"/>
<circle cx="1788" cy="672.4" r="9.15" fill="#dde1e4" stroke="#a9adb0"/>
<circle cx="1788" cy="669" r="9.15" fill="#dde1e4" stroke="#a9adb0"/>
<circle cx="1788" cy="665.7" r="9.15" fill="#dde1e4" stroke="#a9adb0"/>
<circle cx="1788" cy="662.3" r="9.15" fill="#dde1e4" stroke="#a9adb0"/>
<circle cx="1788" cy="659" r="9.15" fill="#dde1e4" stroke="#a9adb0"/>
<circle cx="1788" cy="763" r="9.15" fill="#dde1e4" stroke="#a9adb0"/>
<circle cx="1788" cy="759.6" r="9.15" fill="#dde1e4" stroke="#a9adb0"/>
<circle cx="1788" cy="756.2" r="9.15" fill="#dde1e4" stroke="#a9adb0"/>
<circle cx="1788" cy="752.9" r="9.15" fill="#dde1e4" stroke="#a9adb0"/>
<circle cx="1788" cy="749.5" r="9.15" fill="#dde1e4" stroke="#a9adb0"/>
<circle cx="1788" cy="746.1" r="9.15" fill="#dde1e4" stroke="#a9adb0"/>
<circle cx="1788" cy="742.7" r="9.15" fill="#dde1e4" stroke="#a9adb0"/>
<circle cx="1788" cy="739.3" r="9.15" fill="#dde1e4" stroke="#a9adb0"/>
<circle cx="1788" cy="735.9" r="9.15" fill="#dde1e4" stroke="#a9adb0"/>
<circle cx="1788" cy="732.6" r="9.15" fill="#dde1e4" stroke="#a9adb0"/>
<circle cx="1788" cy="729.2" r="9.15" fill="#dde1e4" stroke="#a9adb0"/>
<circle cx="1788" cy="725.8" r="9.15" fill="#dde1e4" stroke="#a9adb0"/>
<circle cx="2121.8" cy="722.7" r="9.15" fill="#dde1e4" stroke="#a9adb0"/>
<circle cx="2121.8" cy="719.6" r="9.15" fill="#dde1e4" stroke="#a9adb0"/>
<circle cx="2121.8" cy="716.4" r="9.15" fill="#dde1e4" stroke="#a9adb0"/>
<circle cx="2121.8" cy="713.2" r="9.15" fill="#dde1e4" stroke="#a9adb0"/>
<circle cx="2121.8" cy="710.1" r="9.15" fill="#dde1e4" stroke="#a9adb0"/>
<circle cx="2121.8" cy="706.9" r="9.15" fill="#dde1e4" stroke="#a9adb0"/>
<circle cx="2121.8" cy="703.8" r="9.15" fill="#dde1e4" stroke="#a9adb0"/>
<circle cx="2121.8" cy="767.4" r="9.15" fill="#dde1e4" stroke="#a9adb0"/>
<circle cx="2121.8" cy="800.6" r="9.15" fill="#dde1e4" stroke="#a9adb0"/>
<circle cx="2121.8" cy="852.5" r="9.15" fill="#fde74d" stroke="#d4bb3c"/>
<circle cx="1454.1" cy="875.2" r="9.15" fill="#fde74d" stroke="#d4bb3c"/>
<circle cx="1454.1" cy="870.4" r="9.15" fill="#dde1e4" stroke="#a9adb0"/>
<circle cx="1454.1" cy="859.8" r="9.15" fill="#5db4f2" stroke="#4a94ce"/>
<circle cx="1454.1" cy="841.2" r="9.15" fill="#5db4f2" stroke="#4a94ce"/>
<circle cx="1454.1" cy="837.9" r="9.15" fill="#5db4f2" stroke="#4a94ce"/>
<circle cx="1454.1" cy="834.6" r="9.15" fill="#5db4f2" stroke="#4a94ce"/>
<circle cx="1454.1" cy="831.3" r="9.15" fill="#5db4f2" stroke="#4a94ce"/>
<circle cx="1454.1" cy="828" r="9.15" fill="#5db4f2" stroke="#4a94ce"/>
<circle cx="1454.1" cy="824.7" r="9.15" fill="#5db4f2" stroke="#4a94ce"/>
<circle cx="1454.1" cy="821.4" r="9.15" fill="#5db4f2" stroke="#4a94ce"/>
<circle cx="1454.1" cy="818.1" r="9.15" fill="#5db4f2" stroke="#4a94ce"/>
<circle cx="1454.1" cy="814.8" r="9.15" fill="#5db4f2" stroke="#4a94ce"/>
<circle cx="1454.1" cy="811.5" r="9.15" fill="#5db4f2" stroke="#4a94ce"/>
<circle cx="1454.1" cy="856.8" r="9.15" fill="#fde74d" stroke="#d4bb3c"/>
<circle cx="1454.1" cy="797.4" r="9.15" fill="#dde1e4" stroke="#a9adb0"/>
<circle cx="1454.1" cy="794.1" r="9.15" fill="#dde1e4" stroke="#a9adb0"/>
<circle cx="1454.1" cy="790.8" r="9.15" fill="#dde1e4" stroke="#a9adb0"/>
<circle cx="1454.1" cy="787.5" r="9.15" fill="#dde1e4" stroke="#a9adb0"/>
<circle cx="1454.1" cy="784.2" r="9.15" fill="#dde1e4" stroke="#a9adb0"/>
<circle cx="1454.1" cy="780.9" r="9.15" fill="#dde1e4" stroke="#a9adb0"/>
<circle cx="1454.1" cy="777.6" r="9.15" fill="#5db4f2" stroke="#4a94ce"/>
<circle cx="1454.1" cy="774.3" r="9.15" fill="#dde1e4" stroke="#a9adb0"/>
<circle cx="1454.1" cy="771" r="9.15" fill="#dde1e4" stroke="#a9adb0"/>
<circle cx="2121.8" cy="1012" r="9.15" fill="#dde1e4" stroke="#a9adb0"/>
<circle cx="2121.8" cy="1008.6" r="9.15" fill="#dde1e4" stroke="#a9adb0"/>
<circle cx="2121.8" cy="1005.2" r="9.15" fill="#dde1e4" stroke="#a9adb0"/>
<circle cx="2121.8" cy="1001.8" r="9.15" fill="#dde1e4" stroke="#a9adb0"/>
<circle cx="2121.8" cy="998.3" r="9.15" fill="#dde1e4" stroke="#a9adb0"/>
<circle cx="2121.8" cy="994.9" r="9.15" fill="#dde1e4" stroke="#a9adb0"/>
<circle cx="2121.8" cy="991.5" r="9.15" fill="#dde1e4" stroke="#a9adb0"/>
<circle cx="2121.8" cy="988.1" r="9.15" fill="#dde1e4" stroke="#a9adb0"/>
<circle cx="2121.8" cy="984.7" r="9.15" fill="#dde1e4" stroke="#a9adb0"/>
<circle cx="2121.8" cy="981.3" r="9.15" fill="#dde1e4" stroke="#a9adb0"/>
<circle cx="2121.8" cy="977.9" r="9.15" fill="#dde1e4" stroke="#a9adb0"/>
<circle cx="2121.8" cy="974.5" r="9.15" fill="#dde1e4" stroke="#a9adb0"/>
<circle cx="2121.8" cy="971" r="9.15" fill="#dde1e4" stroke="#a9adb0"/>
<circle cx="2121.8" cy="967.6" r="9.15" fill="#dde1e4" stroke="#a9adb0"/>
<circle cx="2121.8" cy="964.2" r="9.15" fill="#dde1e4" stroke="#a9adb0"/>
<circle cx="2121.8" cy="960.8" r="9.15" fill="#dde1e4" stroke="#a9adb0"/>
<circle cx="2121.8" cy="957.4" r="9.15" fill="#dde1e4" stroke="#a9adb0"/>
<circle cx="2121.8" cy="954" r="9.15" fill="#dde1e4" stroke="#a9adb0"/>
<circle cx="2121.8" cy="950.6" r="9.15" fill="#dde1e4" stroke="#a9adb0"/>
<circle cx="2121.8" cy="947.1" r="9.15" fill="#dde1e4" stroke="#a9adb0"/>
<circle cx="2121.8" cy="943.7" r="9.15" fill="#dde1e4" stroke="#a9adb0"/>
<circle cx="2121.8" cy="940.3" r="9.15" fill="#dde1e4" stroke="#a9adb0"/>
<circle cx="2121.8" cy="936.9" r="9.15" fill="#dde1e4" stroke="#a9adb0"/>
<circle cx="2121.8" cy="933.5" r="9.15" fill="#dde1e4" stroke="#a9adb0"/>
<circle cx="2121.8" cy="930.1" r="9.15" fill="#dde1e4" stroke="#a9adb0"/>
<circle cx="2121.8" cy="926.7" r="9.15" fill="#dde1e4" stroke="#a9adb0"/>
<circle cx="2121.8" cy="923.3" r="9.15" fill="#dde1e4" stroke="#a9adb0"/>
<circle cx="2121.8" cy="919.8" r="9.15" fill="#dde1e4" stroke="#a9adb0"/>
<circle cx="2121.8" cy="916.4" r="9.15" fill="#dde1e4" stroke="#a9adb0"/>
<circle cx="2121.8" cy="913" r="9.15" fill="#dde1e4" stroke="#a9adb0"/>
<circle cx="2121.8" cy="909.6" r="9.15" fill="#dde1e4" stroke="#a9adb0"/>
<circle cx="2121.8" cy="906.2" r="9.15" fill="#dde1e4" stroke="#a9adb0"/>
<circle cx="2121.8" cy="902.8" r="9.15" fill="#dde1e4" stroke="#a9adb0"/>
<circle cx="2121.8" cy="899.4" r="9.15" fill="#dde1e4" stroke="#a9adb0"/>
<circle cx="2121.8" cy="896" r="9.15" fill="#dde1e4" stroke="#a9adb0"/>
<circle cx="2121.8" cy="892.5" r="9.15" fill="#dde1e4" stroke="#a9adb0"/>
<circle cx="2121.8" cy="889.1" r="9.15" fill="#dde1e4" stroke="#a9adb0"/>
<circle cx="2121.8" cy="885.7" r="9.15" fill="#dde1e4" stroke="#a9adb0"/>
<circle cx="2121.8" cy="882.3" r="9.15" fill="#dde1e4" stroke="#a9adb0"/>
<circle cx="2455.7" cy="1050" r="9.15" fill="#dde1e4" stroke="#a9adb0"/>
<circle cx="2455.7" cy="1046.6" r="9.15" fill="#dde1e4" stroke="#a9adb0"/>
<circle cx="2455.7" cy="1043.2" r="9.15" fill="#dde1e4" stroke="#a9adb0"/>
<circle cx="2455.7" cy="1039.8" r="9.15" fill="#dde1e4" stroke="#a9adb0"/>
<circle cx="2455.7" cy="1036.4" r="9.15" fill="#dde1e4" stroke="#a9adb0"/>
<circle cx="2455.7" cy="1033" r="9.15" fill="#dde1e4" stroke="#a9adb0"/>
<circle cx="2455.7" cy="1029.6" r="9.15" fill="#dde1e4" stroke="#a9adb0"/>
<circle cx="2455.7" cy="1026.2" r="9.15" fill="#dde1e4" stroke="#a9adb0"/>
<circle cx="2455.7" cy="1022.8" r="9.15" fill="#dde1e4" stroke="#a9adb0"/>
<circle cx="2455.7" cy="1019.4" r="9.15" fill="#dde1e4" stroke="#a9adb0"/>
<circle cx="2455.7" cy="1016" r="9.15" fill="#dde1e4" stroke="#a9adb0"/>
<circle cx="2455.7" cy="1083" r="9.15" fill="#dde1e4" stroke="#a9adb0"/>
<circle cx="2789.5" cy="1090" r="9.15" fill="#dde1e4" stroke="#a9adb0"/>
<circle cx="2789.5" cy="1084" r="9.15" fill="#dde1e4" stroke="#a9adb0"/>
<circle cx="2789.5" cy="1078" r="9.15" fill="#dde1e4" stroke="#a9adb0"/>
<circle cx="2789.5" cy="1072" r="9.15" fill="#dde1e4" stroke="#a9adb0"/>
<circle cx="2789.5" cy="1066" r="9.15" fill="#dde1e4" stroke="#a9adb0"/>
<circle cx="2789.5" cy="1060" r="9.15" fill="#dde1e4" stroke="#a9adb0"/>
<circle cx="2789.5" cy="1054" r="9.15" fill="#dde1e4" stroke="#a9adb0"/>
<circle cx="2789.5" cy="1048" r="9.15" fill="#dde1e4" stroke="#a9adb0"/>
<circle cx="2789.5" cy="1042" r="9.15" fill="#dde1e4" stroke="#a9adb0"/>
<circle cx="3123.4" cy="1053" r="9.15" fill="#dde1e4" stroke="#a9adb0"/>
<circle cx="3123.4" cy="1068.5" r="9.15" fill="#dde1e4" stroke="#a9adb0"/>
<circle cx="3123.4" cy="1098" r="9.15" fill="#dde1e4" stroke="#a9adb0"/>
<circle cx="3123.4" cy="1094.2" r="9.15" fill="#dde1e4" stroke="#a9adb0"/>
<circle cx="2455.7" cy="1138.7" r="9.15" fill="#5db4f2" stroke="#4a94ce"/>
<circle cx="2121.8" cy="1190.6" r="9.15" fill="#5db4f2" stroke="#4a94ce"/>
<circle cx="2121.8" cy="1178" r="9.15" fill="#5db4f2" stroke="#4a94ce"/>
<circle cx="2121.8" cy="1172" r="9.15" fill="#5db4f2" stroke="#4a94ce"/>
<circle cx="2121.8" cy="1150.2" r="9.15" fill="#dde1e4" stroke="#a9adb0"/>
<circle cx="2121.8" cy="1137" r="9.15" fill="#5db4f2" stroke="#4a94ce"/>
<circle cx="2121.8" cy="1131.3" r="9.15" fill="#5db4f2" stroke="#4a94ce"/>
<circle cx="1788" cy="1168.3" r="9.15" fill="#dde1e4" stroke="#a9adb0"/>
<circle cx="1788" cy="1152.5" r="9.15" fill="#5db4f2" stroke="#4a94ce"/>
<circle cx="1788" cy="1143.8" r="9.15" fill="#5db4f2" stroke="#4a94ce"/>
<circle cx="1788" cy="1124.9" r="9.15" fill="#dde1e4" stroke="#a9adb0"/>
<circle cx="1788" cy="1121.6" r="9.15" fill="#5db4f2" stroke="#4a94ce"/>
<circle cx="1788" cy="1118.2" r="9.15" fill="#dde1e4" stroke="#a9adb0"/>
<circle cx="1788" cy="1114.8" r="9.15" fill="#5db4f2" stroke="#4a94ce"/>
<circle cx="1788" cy="1111.5" r="9.15" fill="#5db4f2" stroke="#4a94ce"/>
<circle cx="1788" cy="1108.1" r="9.15" fill="#5db4f2" stroke="#4a94ce"/>
<circle cx="1788" cy="1104.8" r="9.15" fill="#5db4f2" stroke="#4a94ce"/>
<circle cx="1788" cy="1101.4" r="9.15" fill="#5db4f2" stroke="#4a94ce"/>
<circle cx="1788" cy="1165.8" r="9.15" fill="#fde74d" stroke="#d4bb3c"/>
<circle cx="1454.1" cy="1197.3" r="9.15" fill="#dde1e4" stroke="#a9adb0"/>
<circle cx="1454.1" cy="1195.7" r="9.15" fill="#5db4f2" stroke="#4a94ce"/>
<circle cx="1454.1" cy="1192.5" r="9.15" fill="#5db4f2" stroke="#4a94ce"/>
<circle cx="1454.1" cy="1189.3" r="9.15" fill="#5db4f2" stroke="#4a94ce"/>
<circle cx="1454.1" cy="1186.1" r="9.15" fill="#5db4f2" stroke="#4a94ce"/>
<circle cx="1454.1" cy="1182.9" r="9.15" fill="#5db4f2" stroke="#4a94ce"/>
<circle cx="1454.1" cy="1179.7" r="9.15" fill="#5db4f2" stroke="#4a94ce"/>
<circle cx="2121.8" cy="1294.7" r="9.15" fill="#5db4f2" stroke="#4a94ce"/>
<circle cx="1120.2" cy="1265.2" r="9.15" fill="#fde74d" stroke="#d4bb3c"/>
<circle cx="1454.1" cy="1332.2" r="9.15" fill="#dde1e4" stroke="#a9adb0"/>
<circle cx="1454.1" cy="1320.6" r="9.15" fill="#dde1e4" stroke="#a9adb0"/>
<circle cx="1454.1" cy="1309" r="9.15" fill="#dde1e4" stroke="#a9adb0"/>
<circle cx="1454.1" cy="1305.4" r="9.15" fill="#dde1e4" stroke="#a9adb0"/>
<circle cx="1454.1" cy="1301.9" r="9.15" fill="#dde1e4" stroke="#a9adb0"/>
<circle cx="1454.1" cy="1298.3" r="9.15" fill="#dde1e4" stroke="#a9adb0"/>
<circle cx="1454.1" cy="1276.4" r="9.15" fill="#5db4f2" stroke="#4a94ce"/>
<circle cx="1454.1" cy="1256.6" r="9.15" fill="#dde1e4" stroke="#a9adb0"/>
<circle cx="1454.1" cy="1249.8" r="9.15" fill="#dde1e4" stroke="#a9adb0"/>
<circle cx="1454.1" cy="1246.5" r="9.15" fill="#dde1e4" stroke="#a9adb0"/>
<circle cx="1788" cy="1317" r="9.15" fill="#dde1e4" stroke="#a9adb0"/>
<circle cx="1788" cy="1293.3" r="9.15" fill="#dde1e4" stroke="#a9adb0"/>
<circle cx="1788" cy="1290.1" r="9.15" fill="#dde1e4" stroke="#a9adb0"/>
<circle cx="1788" cy="1286.8" r="9.15" fill="#dde1e4" stroke="#a9adb0"/>
<circle cx="1788" cy="1283.6" r="9.15" fill="#dde1e4" stroke="#a9adb0"/>
<circle cx="1788" cy="1275.5" r="9.15" fill="#5db4f2" stroke="#4a94ce"/>
<circle cx="1788" cy="1272" r="9.15" fill="#5db4f2" stroke="#4a94ce"/>
<circle cx="1788" cy="1263.3" r="9.15" fill="#dde1e4" stroke="#a9adb0"/>
<circle cx="1788" cy="1254.4" r="9.15" fill="#dde1e4" stroke="#a9adb0"/>
<circle cx="1788" cy="1242.4" r="9.15" fill="#dde1e4" stroke="#a9adb0"/>
<circle cx="1788" cy="1228" r="9.15" fill="#dde1e4" stroke="#a9adb0"/>
<circle cx="1788" cy="1224.7" r="9.15" fill="#dde1e4" stroke="#a9adb0"/>
<circle cx="1788" cy="1221.5" r="9.15" fill="#dde1e4" stroke="#a9adb0"/>
<circle cx="1788" cy="1218.2" r="9.15" fill="#dde1e4" stroke="#a9adb0"/>
<circle cx="1788" cy="1215" r="9.15" fill="#dde1e4" stroke="#a9adb0"/>
<circle cx="1788" cy="1211.7" r="9.15" fill="#dde1e4" stroke="#a9adb0"/>
<circle cx="1788" cy="1208.4" r="9.15" fill="#dde1e4" stroke="#a9adb0"/>
<circle cx="1788" cy="1205.2" r="9.15" fill="#dde1e4" stroke="#a9adb0"/>
<circle cx="1788" cy="1201.9" r="9.15" fill="#dde1e4" stroke="#a9adb0"/>
<circle cx="2121.8" cy="1238.8" r="9.15" fill="#dde1e4" stroke="#a9adb0"/>
<circle cx="2121.8" cy="1235.1" r="9.15" fill="#dde1e4" stroke="#a9adb0"/>
<circle cx="2121.8" cy="1231.4" r="9.15" fill="#dde1e4" stroke="#a9adb0"/>
<circle cx="2121.8" cy="1227.7" r="9.15" fill="#dde1e4" stroke="#a9adb0"/>
<circle cx="2121.8" cy="1325.2" r="9.15" fill="#dde1e4" stroke="#a9adb0"/>
<circle cx="2121.8" cy="1313" r="9.15" fill="#dde1e4" stroke="#a9adb0"/>
<circle cx="2455.7" cy="1309.5" r="9.15" fill="#dde1e4" stroke="#a9adb0"/>
<circle cx="2455.7" cy="1327.8" r="9.15" fill="#dde1e4" stroke="#a9adb0"/>
<circle cx="786.4" cy="1385" r="9.15" fill="#dde1e4" stroke="#a9adb0"/>
<circle cx="786.4" cy="1381.7" r="9.15" fill="#dde1e4" stroke="#a9adb0"/>
<circle cx="786.4" cy="1378.5" r="9.15" fill="#dde1e4" stroke="#a9adb0"/>
<circle cx="786.4" cy="1375.2" r="9.15" fill="#dde1e4" stroke="#a9adb0"/>
<circle cx="786.4" cy="1372" r="9.15" fill="#dde1e4" stroke="#a9adb0"/>
<circle cx="786.4" cy="1368.7" r="9.15" fill="#dde1e4" stroke="#a9adb0"/>
<circle cx="786.4" cy="1365.4" r="9.15" fill="#dde1e4" stroke="#a9adb0"/>
<circle cx="786.4" cy="1362.2" r="9.15" fill="#dde1e4" stroke="#a9adb0"/>
<circle cx="786.4" cy="1358.9" r="9.15" fill="#dde1e4" stroke="#a9adb0"/>
<circle cx="786.4" cy="1355.6" r="9.15" fill="#dde1e4" stroke="#a9adb0"/>
<circle cx="786.4" cy="1352.4" r="9.15" fill="#dde1e4" stroke="#a9adb0"/>
<circle cx="786.4" cy="1349.1" r="9.15" fill="#dde1e4" stroke="#a9adb0"/>
<circle cx="786.4" cy="1345.9" r="9.15" fill="#dde1e4" stroke="#a9adb0"/>
<circle cx="786.4" cy="1342.6" r="9.15" fill="#dde1e4" stroke="#a9adb0"/>
<circle cx="1120.2" cy="1644" r="9.15" fill="#dde1e4" stroke="#a9adb0"/>
<circle cx="1120.2" cy="1600" r="9.15" fill="#dde1e4" stroke="#a9adb0"/>
<circle cx="1120.2" cy="1596.6" r="9.15" fill="#dde1e4" stroke="#a9adb0"/>
<circle cx="1120.2" cy="1593.2" r="9.15" fill="#dde1e4" stroke="#a9adb0"/>
<circle cx="1120.2" cy="1589.9" r="9.15" fill="#dde1e4" stroke="#a9adb0"/>
<circle cx="1120.2" cy="1586.5" r="9.15" fill="#dde1e4" stroke="#a9adb0"/>
<circle cx="1120.2" cy="1583.1" r="9.15" fill="#dde1e4" stroke="#a9adb0"/>
<circle cx="1120.2" cy="1579.7" r="9.15" fill="#dde1e4" stroke="#a9adb0"/>
<circle cx="1120.2" cy="1576.3" r="9.15" fill="#dde1e4" stroke="#a9adb0"/>
<circle cx="1120.2" cy="1573" r="9.15" fill="#dde1e4" stroke="#a9adb0"/>
<circle cx="1120.2" cy="1569.6" r="9.15" fill="#dde1e4" stroke="#a9adb0"/>
<circle cx="1120.2" cy="1566.2" r="9.15" fill="#dde1e4" stroke="#a9adb0"/>
<circle cx="1120.2" cy="1562.8" r="9.15" fill="#dde1e4" stroke="#a9adb0"/>
<circle cx="1120.2" cy="1559.4" r="9.15" fill="#dde1e4" stroke="#a9adb0"/>
<circle cx="1120.2" cy="1556.1" r="9.15" fill="#dde1e4" stroke="#a9adb0"/>
<circle cx="1120.2" cy="1552.7" r="9.15" fill="#dde1e4" stroke="#a9adb0"/>
<circle cx="1120.2" cy="1549.3" r="9.15" fill="#dde1e4" stroke="#a9adb0"/>
<circle cx="1120.2" cy="1545.9" r="9.15" fill="#dde1e4" stroke="#a9adb0"/>
<circle cx="1120.2" cy="1542.5" r="9.15" fill="#dde1e4" stroke="#a9adb0"/>
<circle cx="1120.2" cy="1539.1" r="9.15" fill="#dde1e4" stroke="#a9adb0"/>
<circle cx="1120.2" cy="1535.8" r="9.15" fill="#dde1e4" stroke="#a9adb0"/>
<circle cx="1120.2" cy="1532.4" r="9.15" fill="#dde1e4" stroke="#a9adb0"/>
<circle cx="1120.2" cy="1529" r="9.15" fill="#dde1e4" stroke="#a9adb0"/>
<circle cx="1120.2" cy="1525.6" r="9.15" fill="#dde1e4" stroke="#a9adb0"/>
<circle cx="1120.2" cy="1522.2" r="9.15" fill="#dde1e4" stroke="#a9adb0"/>
<circle cx="1120.2" cy="1518.9" r="9.15" fill="#dde1e4" stroke="#a9adb0"/>
<circle cx="1120.2" cy="1515.5" r="9.15" fill="#dde1e4" stroke="#a9adb0"/>
<circle cx="1120.2" cy="1512.1" r="9.15" fill="#dde1e4" stroke="#a9adb0"/>
<circle cx="1120.2" cy="1508.7" r="9.15" fill="#dde1e4" stroke="#a9adb0"/>
<circle cx="1120.2" cy="1505.3" r="9.15" fill="#dde1e4" stroke="#a9adb0"/>
<circle cx="1120.2" cy="1502" r="9.15" fill="#dde1e4" stroke="#a9adb0"/>
<circle cx="1120.2" cy="1498.6" r="9.15" fill="#dde1e4" stroke="#a9adb0"/>
<circle cx="1120.2" cy="1495.2" r="9.15" fill="#dde1e4" stroke="#a9adb0"/>
<circle cx="1120.2" cy="1435.8" r="9.15" fill="#dde1e4" stroke="#a9adb0"/>
<circle cx="1120.2" cy="1404" r="9.15" fill="#dde1e4" stroke="#a9adb0"/>
<circle cx="1120.2" cy="1400.1" r="9.15" fill="#dde1e4" stroke="#a9adb0"/>
<circle cx="1120.2" cy="1396.2" r="9.15" fill="#dde1e4" stroke="#a9adb0"/>
<circle cx="1120.2" cy="1392.2" r="9.15" fill="#dde1e4" stroke="#a9adb0"/>
<circle cx="1120.2" cy="1388.3" r="9.15" fill="#dde1e4" stroke="#a9adb0"/>
<circle cx="1120.2" cy="1373" r="9.15" fill="#dde1e4" stroke="#a9adb0"/>
<circle cx="1120.2" cy="1358" r="9.15" fill="#dde1e4" stroke="#a9adb0"/>
<circle cx="1120.2" cy="1339.8" r="9.15" fill="#dde1e4" stroke="#a9adb0"/>
<circle cx="1120.2" cy="1335.7" r="9.15" fill="#dde1e4" stroke="#a9adb0"/>
<circle cx="1454.1" cy="1642" r="9.15" fill="#dde1e4" stroke="#a9adb0"/>
<circle cx="1454.1" cy="1638.7" r="9.15" fill="#dde1e4" stroke="#a9adb0"/>
<circle cx="1454.1" cy="1635.3" r="9.15" fill="#dde1e4" stroke="#a9adb0"/>
<circle cx="1454.1" cy="1632" r="9.15" fill="#dde1e4" stroke="#a9adb0"/>
<circle cx="1454.1" cy="1628.7" r="9.15" fill="#dde1e4" stroke="#a9adb0"/>
<circle cx="1454.1" cy="1625.3" r="9.15" fill="#dde1e4" stroke="#a9adb0"/>
<circle cx="1454.1" cy="1622" r="9.15" fill="#dde1e4" stroke="#a9adb0"/>
<circle cx="1454.1" cy="1618.7" r="9.15" fill="#dde1e4" stroke="#a9adb0"/>
<circle cx="1454.1" cy="1615.3" r="9.15" fill="#dde1e4" stroke="#a9adb0"/>
<circle cx="1454.1" cy="1612" r="9.15" fill="#dde1e4" stroke="#a9adb0"/>
<circle cx="1454.1" cy="1608.7" r="9.15" fill="#dde1e4" stroke="#a9adb0"/>
<circle cx="1454.1" cy="1605.3" r="9.15" fill="#dde1e4" stroke="#a9adb0"/>
<circle cx="1454.1" cy="1602" r="9.15" fill="#dde1e4" stroke="#a9adb0"/>
<circle cx="1454.1" cy="1485.8" r="9.15" fill="#dde1e4" stroke="#a9adb0"/>
<circle cx="1454.1" cy="1480" r="9.15" fill="#dde1e4" stroke="#a9adb0"/>
<circle cx="1454.1" cy="1454.3" r="9.15" fill="#dde1e4" stroke="#a9adb0"/>
<circle cx="1454.1" cy="1405.8" r="9.15" fill="#dde1e4" stroke="#a9adb0"/>
<circle cx="1788" cy="1647.8" r="9.15" fill="#dde1e4" stroke="#a9adb0"/>
<circle cx="1788" cy="1499" r="9.15" fill="#dde1e4" stroke="#a9adb0"/>
<circle cx="1788" cy="1476.5" r="9.15" fill="#dde1e4" stroke="#a9adb0"/>
<circle cx="1788" cy="1458.6" r="9.15" fill="#dde1e4" stroke="#a9adb0"/>
<circle cx="1788" cy="1455.4" r="9.15" fill="#dde1e4" stroke="#a9adb0"/>
<circle cx="1788" cy="1452.1" r="9.15" fill="#dde1e4" stroke="#a9adb0"/>
<circle cx="1788" cy="1448.9" r="9.15" fill="#dde1e4" stroke="#a9adb0"/>
<circle cx="1788" cy="1445.7" r="9.15" fill="#dde1e4" stroke="#a9adb0"/>
<circle cx="1788" cy="1442.4" r="9.15" fill="#dde1e4" stroke="#a9adb0"/>
<circle cx="1788" cy="1439.2" r="9.15" fill="#dde1e4" stroke="#a9adb0"/>
<circle cx="1788" cy="1422" r="9.15" fill="#dde1e4" stroke="#a9adb0"/>
<circle cx="1788" cy="1417.9" r="9.15" fill="#dde1e4" stroke="#a9adb0"/>
<circle cx="1788" cy="1413.7" r="9.15" fill="#dde1e4" stroke="#a9adb0"/>
<circle cx="1788" cy="1409.6" r="9.15" fill="#dde1e4" stroke="#a9adb0"/>
<circle cx="2121.8" cy="1651.1" r="9.15" fill="#dde1e4" stroke="#a9adb0"/>
<circle cx="2121.8" cy="1492.7" r="9.15" fill="#dde1e4" stroke="#a9adb0"/>
<circle cx="2121.8" cy="1487.5" r="9.15" fill="#dde1e4" stroke="#a9adb0"/>
<circle cx="2121.8" cy="1474" r="9.15" fill="#dde1e4" stroke="#a9adb0"/>
<circle cx="2121.8" cy="1469.7" r="9.15" fill="#dde1e4" stroke="#a9adb0"/>
<circle cx="2121.8" cy="1465.3" r="9.15" fill="#dde1e4" stroke="#a9adb0"/>
<circle cx="2121.8" cy="1461" r="9.15" fill="#dde1e4" stroke="#a9adb0"/>
<circle cx="2121.8" cy="1417.1" r="9.15" fill="#dde1e4" stroke="#a9adb0"/>
<circle cx="2455.7" cy="1469.3" r="9.15" fill="#dde1e4" stroke="#a9adb0"/>
<circle cx="2455.7" cy="1424.5" r="9.15" fill="#dde1e4" stroke="#a9adb0"/>
<circle cx="3123.4" cy="1431.7" r="9.15" fill="#dde1e4" stroke="#a9adb0"/>
<circle cx="3791.1" cy="1428.3" r="9.15" fill="#dde1e4" stroke="#a9adb0"/>
<circle cx="786.4" cy="1829" r="9.15" fill="#dde1e4" stroke="#a9adb0"/>
<circle cx="786.4" cy="1825.6" r="9.15" fill="#dde1e4" stroke="#a9adb0"/>
<circle cx="786.4" cy="1822.3" r="9.15" fill="#dde1e4" stroke="#a9adb0"/>
<circle cx="786.4" cy="1818.9" r="9.15" fill="#dde1e4" stroke="#a9adb0"/>
<circle cx="786.4" cy="1815.6" r="9.15" fill="#dde1e4" stroke="#a9adb0"/>
<circle cx="786.4" cy="1812.2" r="9.15" fill="#dde1e4" stroke="#a9adb0"/>
<circle cx="786.4" cy="1808.9" r="9.15" fill="#dde1e4" stroke="#a9adb0"/>
<circle cx="786.4" cy="1805.5" r="9.15" fill="#dde1e4" stroke="#a9adb0"/>
<circle cx="786.4" cy="1802.2" r="9.15" fill="#dde1e4" stroke="#a9adb0"/>
<circle cx="786.4" cy="1798.8" r="9.15" fill="#dde1e4" stroke="#a9adb0"/>
<circle cx="786.4" cy="1795.5" r="9.15" fill="#dde1e4" stroke="#a9adb0"/>
<circle cx="786.4" cy="1792.1" r="9.15" fill="#dde1e4" stroke="#a9adb0"/>
<circle cx="786.4" cy="1788.8" r="9.15" fill="#dde1e4" stroke="#a9adb0"/>
<circle cx="786.4" cy="1785.4" r="9.15" fill="#dde1e4" stroke="#a9adb0"/>
<circle cx="786.4" cy="1782" r="9.15" fill="#dde1e4" stroke="#a9adb0"/>
<circle cx="786.4" cy="1778.7" r="9.15" fill="#dde1e4" stroke="#a9adb0"/>
<circle cx="786.4" cy="1775.3" r="9.15" fill="#dde1e4" stroke="#a9adb0"/>
<circle cx="786.4" cy="1772" r="9.15" fill="#dde1e4" stroke="#a9adb0"/>
<circle cx="786.4" cy="1768.6" r="9.15" fill="#dde1e4" stroke="#a9adb0"/>
<circle cx="786.4" cy="1765.3" r="9.15" fill="#dde1e4" stroke="#a9adb0"/>
<circle cx="786.4" cy="1761.9" r="9.15" fill="#dde1e4" stroke="#a9adb0"/>
<circle cx="786.4" cy="1758.6" r="9.15" fill="#dde1e4" stroke="#a9adb0"/>
<circle cx="786.4" cy="1755.2" r="9.15" fill="#dde1e4" stroke="#a9adb0"/>
<circle cx="786.4" cy="1751.9" r="9.15" fill="#dde1e4" stroke="#a9adb0"/>
<circle cx="786.4" cy="1748.5" r="9.15" fill="#dde1e4" stroke="#a9adb0"/>
<circle cx="786.4" cy="1745.2" r="9.15" fill="#dde1e4" stroke="#a9adb0"/>
<circle cx="786.4" cy="1741.8" r="9.15" fill="#dde1e4" stroke="#a9adb0"/>
<circle cx="786.4" cy="1738.4" r="9.15" fill="#dde1e4" stroke="#a9adb0"/>
<circle cx="786.4" cy="1735.1" r="9.15" fill="#dde1e4" stroke="#a9adb0"/>
<circle cx="786.4" cy="1731.7" r="9.15" fill="#dde1e4" stroke="#a9adb0"/>
<circle cx="786.4" cy="1728.4" r="9.15" fill="#dde1e4" stroke="#a9adb0"/>
<circle cx="786.4" cy="1725" r="9.15" fill="#dde1e4" stroke="#a9adb0"/>
<circle cx="786.4" cy="1721.7" r="9.15" fill="#dde1e4" stroke="#a9adb0"/>
<circle cx="786.4" cy="1718.3" r="9.15" fill="#dde1e4" stroke="#a9adb0"/>
<circle cx="786.4" cy="1715" r="9.15" fill="#dde1e4" stroke="#a9adb0"/>
<circle cx="786.4" cy="1711.6" r="9.15" fill="#dde1e4" stroke="#a9adb0"/>
<circle cx="786.4" cy="1708.3" r="9.15" fill="#dde1e4" stroke="#a9adb0"/>
<circle cx="786.4" cy="1704.9" r="9.15" fill="#dde1e4" stroke="#a9adb0"/>
<circle cx="786.4" cy="1701.6" r="9.15" fill="#dde1e4" stroke="#a9adb0"/>
<circle cx="786.4" cy="1698.2" r="9.15" fill="#dde1e4" stroke="#a9adb0"/>
<circle cx="786.4" cy="1694.8" r="9.15" fill="#dde1e4" stroke="#a9adb0"/>
<circle cx="786.4" cy="1691.5" r="9.15" fill="#dde1e4" stroke="#a9adb0"/>
<circle cx="786.4" cy="1688.1" r="9.15" fill="#dde1e4" stroke="#a9adb0"/>
<circle cx="786.4" cy="1684.8" r="9.15" fill="#dde1e4" stroke="#a9adb0"/>
<circle cx="786.4" cy="1681.4" r="9.15" fill="#dde1e4" stroke="#a9adb0"/>
<circle cx="786.4" cy="1678.1" r="9.15" fill="#dde1e4" stroke="#a9adb0"/>
<circle cx="786.4" cy="1674.7" r="9.15" fill="#dde1e4" stroke="#a9adb0"/>
<circle cx="786.4" cy="1671.4" r="9.15" fill="#dde1e4" stroke="#a9adb0"/>
<circle cx="786.4" cy="1668" r="9.15" fill="#dde1e4" stroke="#a9adb0"/>
<circle cx="786.4" cy="1664.7" r="9.15" fill="#dde1e4" stroke="#a9adb0"/>
<circle cx="786.4" cy="1661.3" r="9.15" fill="#dde1e4" stroke="#a9adb0"/>
<circle cx="786.4" cy="1658" r="9.15" fill="#dde1e4" stroke="#a9adb0"/>
<circle cx="786.4" cy="1654.6" r="9.15" fill="#dde1e4" stroke="#a9adb0"/>
<circle cx="1120.2" cy="1838" r="9.15" fill="#dde1e4" stroke="#a9adb0"/>
<circle cx="1120.2" cy="1833.6" r="9.15" fill="#dde1e4" stroke="#a9adb0"/>
<circle cx="1120.2" cy="1818.3" r="9.15" fill="#dde1e4" stroke="#a9adb0"/>
<circle cx="1120.2" cy="1807.3" r="9.15" fill="#dde1e4" stroke="#a9adb0"/>
<circle cx="1454.1" cy="1841" r="9.15" fill="#dde1e4" stroke="#a9adb0"/>
<circle cx="1454.1" cy="1829.6" r="9.15" fill="#dde1e4" stroke="#a9adb0"/>
<circle cx="786.4" cy="1916" r="9.15" fill="#dde1e4" stroke="#a9adb0"/>
<circle cx="786.4" cy="1912.7" r="9.15" fill="#dde1e4" stroke="#a9adb0"/>
<circle cx="786.4" cy="1909.4" r="9.15" fill="#dde1e4" stroke="#a9adb0"/>
<circle cx="786.4" cy="1906.2" r="9.15" fill="#dde1e4" stroke="#a9adb0"/>
<circle cx="786.4" cy="1902.9" r="9.15" fill="#dde1e4" stroke="#a9adb0"/>
<circle cx="786.4" cy="1899.6" r="9.15" fill="#dde1e4" stroke="#a9adb0"/>
<circle cx="786.4" cy="1896.3" r="9.15" fill="#dde1e4" stroke="#a9adb0"/>
<circle cx="786.4" cy="1986" r="9.15" fill="#dde1e4" stroke="#a9adb0"/>
<circle cx="786.4" cy="1982.8" r="9.15" fill="#dde1e4" stroke="#a9adb0"/>
<circle cx="786.4" cy="1979.6" r="9.15" fill="#dde1e4" stroke="#a9adb0"/>
<circle cx="786.4" cy="1976.5" r="9.15" fill="#dde1e4" stroke="#a9adb0"/>
<circle cx="786.4" cy="1973.3" r="9.15" fill="#dde1e4" stroke="#a9adb0"/>
<circle cx="786.4" cy="1970.1" r="9.15" fill="#dde1e4" stroke="#a9adb0"/>
<circle cx="786.4" cy="1966.9" r="9.15" fill="#dde1e4" stroke="#a9adb0"/>
<circle cx="1120.2" cy="1983" r="9.15" fill="#dde1e4" stroke="#a9adb0"/>
<circle cx="1120.2" cy="1978.6" r="9.15" fill="#dde1e4" stroke="#a9adb0"/>
<circle cx="1454.1" cy="1965.3" r="9.15" fill="#dde1e4" stroke="#a9adb0"/>
<circle cx="1454.1" cy="1962.1" r="9.15" fill="#dde1e4" stroke="#a9adb0"/>
<circle cx="1454.1" cy="1959" r="9.15" fill="#dde1e4" stroke="#a9adb0"/>
<circle cx="1454.1" cy="1955.8" r="9.15" fill="#dde1e4" stroke="#a9adb0"/>
<circle cx="1788" cy="1954.3" r="9.15" fill="#dde1e4" stroke="#a9adb0"/>
<circle cx="1788" cy="1950.7" r="9.15" fill="#dde1e4" stroke="#a9adb0"/>
<circle cx="1788" cy="1947.1" r="9.15" fill="#dde1e4" stroke="#a9adb0"/>
<circle cx="1788" cy="1943.5" r="9.15" fill="#dde1e4" stroke="#a9adb0"/>
<circle cx="1788" cy="1940" r="9.15" fill="#dde1e4" stroke="#a9adb0"/>
<circle cx="1788" cy="1936.4" r="9.15" fill="#dde1e4" stroke="#a9adb0"/>
<circle cx="1788" cy="1932.8" r="9.15" fill="#dde1e4" stroke="#a9adb0"/>
</g></g>
<g id="labels" class="lb" text-anchor="end">
<text x="774.5" y="816" textLength="154" lengthAdjust="spacingAndGlyphs">ORF3a: H182Y</text>
<text x="1442" y="754" textLength="163" lengthAdjust="spacingAndGlyphs">orf1ab: D2074E</text>
<text x="2109.5" y="1068.7" textLength="108.5" lengthAdjust="spacingAndGlyphs">S: G1124V</text>
<text x="1775.5" y="1159" textLength="93.5" lengthAdjust="spacingAndGlyphs">S: T501N</text>
<text x="1442.5" y="1179" textLength="94" lengthAdjust="spacingAndGlyphs">S: N501T</text>
<text x="1108.5" y="1252.6" textLength="94.5" lengthAdjust="spacingAndGlyphs">S: A222V</text>
<text x="774.5" y="1571.5" textLength="154" lengthAdjust="spacingAndGlyphs">ORF3a: G224R</text>
<text x="440.5" y="1689" textLength="153" lengthAdjust="spacingAndGlyphs">orf1ab: T4364I</text>
</g>
<g id="annotations" fill="none" stroke="#000" stroke-width="6">
<path d="M768 219 C750 219.5 735 226 735 241 V476 C735 493 713 497 678 497 C713 497 735 501 735 518 V756 C735 771 750 777.5 768 778" stroke-linejoin="bevel"/>
<path d="M1345 930 L1172 864.5"/>
<path d="M1054 1133.3 L1390 1156.7"/>
<path d="M1598 1067.6 L1722 1128"/>
</g>
<g id="arrowheads" fill="#000">
<path d="M1137.2 851.3 L1182.7 846.5 L1168.3 884.9Z"/>
<path d="M1427.2 1159.3 L1388 1136 L1384.4 1176.6Z"/>
<path d="M1758 1145.5 L1729.6 1109.9 L1711 1145Z"/>
</g>
<g id="clades" class="cl">
<text x="273.5" y="520.7">Clade 1.2.1</text>
<text x="1356.5" y="956.5">Clade 1.2.4</text>
<text x="1085.7" y="1093.3">Clade 1.3.2.2.1</text>
<text x="595.5" y="1152.4">Clade 1.3.2.1</text>
</g>
<g id="axis" class="ax" text-anchor="middle">
<text x="803" y="2080.6">22</text>
<text x="1460.9" y="2078.5">24</text>
<text x="2126.3" y="2066.5">26</text>
<text x="2804.1" y="2066.5">28</text>
<text x="3461.2" y="2061.1">30</text>
<text x="2097.7" y="2166.8" class="bd" style="font-size:65px" textLength="323" lengthAdjust="spacingAndGlyphs">Mutations</text>
</g>
<g id="legend">
<rect x="2781.1" y="173.9" width="958.8" height="325.4" fill="#fff" stroke="#000" stroke-width="4.2"/>
<text x="2811" y="282.2" class="bd" style="font-size:69px" textLength="655" lengthAdjust="spacingAndGlyphs">Type de prélèvement</text>
<circle cx="2861.2" cy="423.6" r="41.7" fill="#5fb4f1" stroke="#6a9bc4" stroke-width="12.8"/>
<text x="2927.5" y="447.9" style="font-size:54px" textLength="134" lengthAdjust="spacingAndGlyphs">Vison</text>
<circle cx="3347.7" cy="433" r="42" fill="#fee650" stroke="#beb684" stroke-width="12.6"/>
<text x="3409.5" y="447.9" style="font-size:54px" textLength="188" lengthAdjust="spacingAndGlyphs">Humain</text>
</g>

</svg>
</body>
</html>
